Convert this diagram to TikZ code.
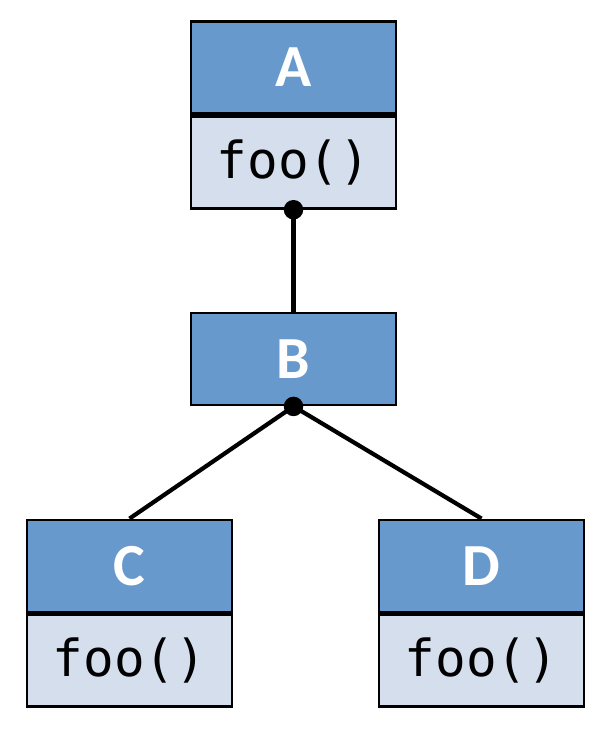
\documentclass[tikz,border=0pt]{standalone}
\usepackage{fontspec}
\setsansfont{Carlito}
\setmonofont{DejaVu Sans Mono}
\usetikzlibrary{positioning}
\definecolor{head}{HTML}{6899CC}
\definecolor{body}{HTML}{D5DEEC}
\definecolor{ink}{HTML}{000000}

\begin{document}
\begin{tikzpicture}[
  line width=1.6pt, ink,
  cls/.style={draw=ink, fill=head, minimum width=4.1cm, minimum height=1.84cm, inner sep=0pt,
              font=\sffamily\bfseries\fontsize{34}{38}\selectfont, text=white},
  ops/.style={cls, fill=body, font=\ttfamily\fontsize{29}{33}\selectfont, text=ink},
  dot/.style={circle, fill=ink, minimum size=3.9mm, inner sep=0pt},
  link/.style={line width=2.4pt, draw=ink}]
\useasboundingbox (0,0) rectangle (12.2,-14.64);
% ---------- classes
\node[cls] (Ahead) at (5.87,-1.35) {A};
\node[ops, below=0pt of Ahead] (Abody) {foo()};
\node[cls] (Bhead) at (5.87,-7.18) {B};
\node[cls] (Chead) at (2.59,-11.32) {C};
\node[ops, below=0pt of Chead] (Cbody) {foo()};
\node[cls] (Dhead) at (9.63,-11.32) {D};
\node[ops, below=0pt of Dhead] (Dbody) {foo()};
% ---------- edges
\draw[link] (Abody.south) -- (Bhead.north);
\draw[link] (Bhead.south) -- (Chead.north);
\draw[link] (Bhead.south) -- (Dhead.north);
\node[dot] (Adot) at (Abody.south) {};
\node[dot] (Bdot) at (Bhead.south) {};
\end{tikzpicture}
\end{document}
